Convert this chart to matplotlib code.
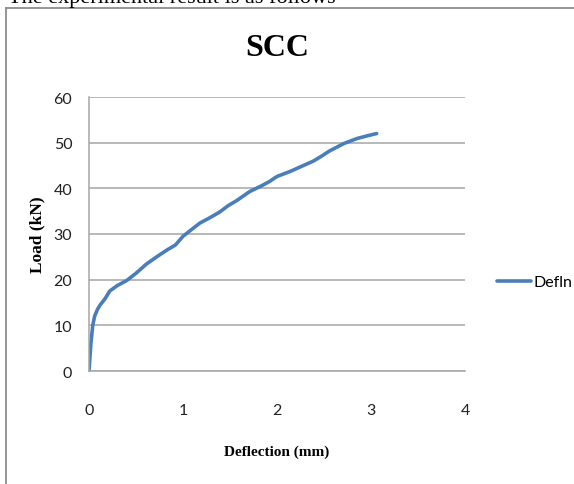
import matplotlib.pyplot as plt
from matplotlib.lines import Line2D

# load-deflection readings for the SCC specimen
deflection = [0, 0.01, 0.02, 0.04, 0.06, 0.09, 0.12, 0.17, 0.22, 0.30, 0.40,
              0.50, 0.61, 0.72, 0.83, 0.92, 1.00, 1.08, 1.18, 1.28, 1.39,
              1.48, 1.57, 1.71, 1.84, 1.92, 2.00, 2.14, 2.26, 2.39, 2.47,
              2.56, 2.71, 2.85, 2.96, 3.06]
load = [0, 3, 6, 10, 12, 13.5, 14.5, 15.8, 17.5, 18.7, 19.8,
        21.4, 23.4, 25.0, 26.5, 27.6, 29.5, 30.8, 32.4, 33.5, 34.8,
        36.2, 37.3, 39.3, 40.6, 41.5, 42.6, 43.7, 44.8, 46.0, 47.0,
        48.2, 49.8, 50.9, 51.5, 52.0]
x_ticks = [0, 1, 2, 3, 4]
y_ticks = [0, 10, 20, 30, 40, 50, 60]

W, H = 574, 485
fig = plt.figure(figsize=(W / 100, H / 100), dpi=100)
fig.patch.set_facecolor('white')

ax = fig.add_axes([89 / W, 1 - 372 / H, (465 - 89) / W, (372 - 98) / H])
ax.plot(deflection, load, color='#4a7ebb', linewidth=2.6,
        solid_capstyle='round', label='Defln')

ax.set_xlim(0, 4)
ax.set_ylim(0, 60)
ax.set_xticks(x_ticks)
ax.set_yticks(y_ticks)
tick_font = ['Lato', 'DejaVu Sans']
for lab in ax.get_xticklabels() + ax.get_yticklabels():
    lab.set_family(tick_font)
    lab.set_fontsize(11.5)
    lab.set_color('#222222')
ax.tick_params(length=0)
ax.tick_params(axis='x', pad=23)
ax.tick_params(axis='y', pad=12)

ax.grid(axis='y', color='#a6a6a6', linewidth=1.1)
ax.set_axisbelow(True)
for side in ['top', 'right']:
    ax.spines[side].set_visible(False)
for side in ['left', 'bottom']:
    ax.spines[side].set_color('#a6a6a6')
    ax.spines[side].set_linewidth(1.1)

ax.set_title('SCC', family='Liberation Serif', fontweight='bold',
             fontsize=23, pad=30)
ax.set_xlabel('Deflection (mm)', family='Liberation Serif',
              fontweight='bold', fontsize=11, labelpad=20)
ax.set_ylabel('Load (kN)', family='Liberation Serif',
              fontweight='bold', fontsize=12.5, labelpad=6)

ax.legend(loc='center left', bbox_to_anchor=(491 / W, 1 - 283 / H),
          bbox_transform=fig.transFigure, frameon=False, handlelength=2.1,
          handletextpad=0.15, borderaxespad=0,
          prop={'family': tick_font, 'size': 11.5})

# page border around the chart and the sentence above it
fig.add_artist(Line2D([6 / W, 6 / W], [0, 1 - 9 / H], color='#8c8c8c',
                      linewidth=1.3, transform=fig.transFigure))
fig.add_artist(Line2D([6 / W, 1], [1 - 9 / H, 1 - 9 / H], color='#8c8c8c',
                      linewidth=1.3, transform=fig.transFigure))
fig.text(8 / W, 1 - 2.5 / H, 'The experimental result is as follows',
         family='Liberation Serif', fontsize=16, va='baseline', ha='left')

fig.savefig('out.png', dpi=100)
